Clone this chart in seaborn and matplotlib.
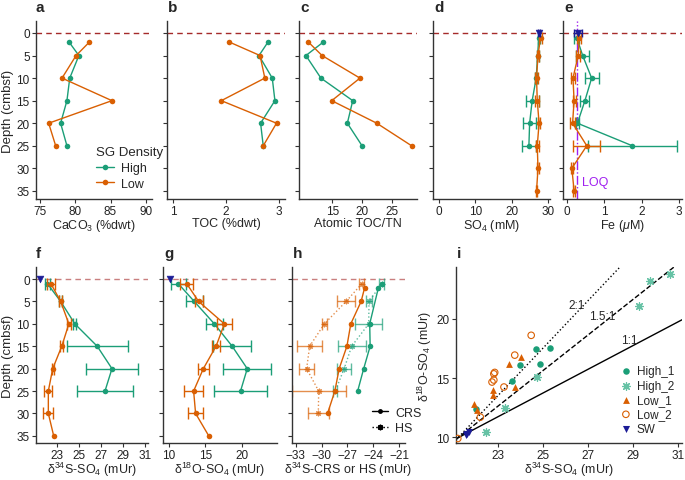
import matplotlib
matplotlib.use('Agg')
import matplotlib.pyplot as plt
from matplotlib.lines import Line2D
import seaborn as sns
import numpy as np

sns.set_style('ticks')
plt.rcParams['font.family'] = ['Liberation Sans', 'DejaVu Sans']
plt.rcParams['mathtext.fontset'] = 'custom'
plt.rcParams['mathtext.rm'] = 'Liberation Sans'
plt.rcParams['mathtext.it'] = 'Liberation Sans:italic'
plt.rcParams['mathtext.default'] = 'regular'

GREEN = '#1b9e77'
GREEN2 = '#66c2a5'
ORANGE = '#d95f02'
NAVY = '#1c1c96'
RED = '#a52a2a'
PURPLE = '#a020f0'

# ---- sediment (panels a-c)
depth_sed = [2, 5, 10, 15, 20, 25]
caco3_high = [79.1, 80.5, 79.2, 78.8, 77.9, 78.8]
caco3_low = [82.0, 80.1, 78.1, 85.2, 76.2, 77.2]
toc_high = [2.79, 2.62, 2.87, 2.92, 2.65, 2.70]
toc_low = [2.06, 2.64, 2.73, 1.91, 2.95, 2.70]
cn_high = [13.5, 10.6, 13.1, 18.4, 17.5, 19.95]
cn_low = [11.0, 13.3, 19.6, 14.9, 22.4, 28.2]

# ---- porewater (panels d-g)
depth_high = [1, 5, 10, 15, 20, 25]
depth_low = [1, 5, 10, 15, 20, 25, 30, 35]
so4_high = [27.4, 27.1, 26.7, 25.6, 24.9, 24.7]
so4_high_err = [0.3, 0.3, 0.3, 1.8, 1.8, 1.9]
so4_low = [27.9, 27.2, 26.8, 27.0, 27.5, 27.0, 27.2, 26.8]
so4_low_err = [0.5, 0.3, 0.5, 0.5, 0.3, 0.4, 0.2, 0.2]
so4_sw, so4_sw_err = 27.45, 0.3
fe_high = [0.26, 0.42, 0.66, 0.48, 0.28, 1.75]
fe_high_err = [0.07, 0.17, 0.19, 0.12, 0.05, 1.2]
fe_low = [0.33, 0.30, 0.16, 0.19, 0.15, 0.53, 0.13, 0.19]
fe_low_err = [0.05, 0.05, 0.06, 0.04, 0.07, 0.36, 0.03, 0.03]
fe_sw, fe_sw_err = 0.30, 0.1
fe_loq = 0.28
d34s_high = [22.08, 23.3, 24.6, 26.65, 28.0, 27.36]
d34s_high_err = [0.25, 0.15, 0.15, 2.78, 2.37, 2.58]
d34s_low = [22.4, 23.3, 24.05, 23.4, 22.57, 22.17, 22.17, 22.66]
d34s_low_err = [0.34, 0.15, 0.2, 0.15, 0.1, 0.37, 0.45, np.nan]
d34s_sw = 21.45
d18o_high = [11.28, 13.48, 16.23, 18.67, 20.73, 19.81]
d18o_high_err = [1.03, 1.15, 1.21, 2.59, 3.26, 3.64]
d18o_low = [12.43, 14.08, 17.6, 16.46, 14.72, 13.39, 13.66, 15.46]
d18o_low_err = [0.85, 0.55, 1.03, 0.5, 0.76, 1.26, 0.99, np.nan]
d18o_sw = 10.1

# ---- sulfide (panel h)
crs_high_depth = [1, 2, 10, 15, 20, 25]
crs_high = [-23.0, -23.4, -24.4, -24.35, -25.1, -25.8]
crs_low_depth = [2, 5, 10, 15, 20, 25, 30]
crs_low = [-25.0, -25.4, -26.6, -27.05, -27.95, -28.45, -29.3]
hs_high_depth = [1, 5, 10, 15, 20, 25]
hs_high = [-23.0, -24.48, -24.52, -26.5, -27.37, -28.4]
hs_high_err = [0.31, 0.33, 1.55, 1.63, 0.79, 0.23]
hs_low_depth = [1, 5, 10, 15, 20, 25, 30]
hs_low = [-25.3, -27.15, -29.67, -31.38, -31.73, -30.33, -30.37]
hs_low_err = [0.29, 1.06, 0.27, 1.47, 0.85, 3.13, 1.22]

# ---- cross plot (panel i)
high1_s = [24.68, 25.3, 23.97, 24.86, 23.59, 22.0]
high1_o = [17.43, 17.49, 16.09, 16.14, 14.72, 12.37]
high2_s = [30.62, 29.76, 29.24, 24.73, 23.31, 22.44]
high2_o = [23.77, 23.21, 21.06, 15.05, 12.43, 10.44]
low1_s = [21.94, 22.07, 22.75, 22.75, 23.46, 23.99, 23.73]
low1_o = [12.82, 12.29, 13.99, 13.55, 16.14, 16.76, 14.24]
low2_s = [24.46, 23.73, 22.84, 22.8, 22.8, 22.72, 23.25, 22.2, 21.2]
low2_o = [18.6, 16.93, 15.47, 15.35, 14.83, 14.66, 14.24, 11.7, 9.9]
sw_s = [21.55, 21.62, 21.7]
sw_o = [10.2, 10.3, 10.42]
ratios = [1, 1.5, 2]
ratio_labels = ['1:1', '1.5:1', '2:1']
ratio_styles = ['-', '--', ':']
ratio_origin = (21.2, 9.95)

W, H = 685, 481
fig = plt.figure(figsize=(W / 100, H / 100), dpi=100)


def box(x0, y0, x1, y1):
    return [x0 / W, 1 - y1 / H, (x1 - x0) / W, (y1 - y0) / H]


def style_ax(ax):
    for s in ['top', 'right']:
        ax.spines[s].set_visible(False)
    for s in ['left', 'bottom']:
        ax.spines[s].set_linewidth(1)
        ax.spines[s].set_color('#333333')
    ax.tick_params(length=3, width=0.8, labelsize=8.5, pad=1.5,
                   color='#333333', labelcolor='#222222')


def profile(ax, x, y, color, err=None, label=None, ls='-', marker='o', ms=4, alpha=1):
    sns.lineplot(x=x, y=y, orient='y', estimator=None, color=color, marker=marker,
                 markersize=ms, markeredgewidth=0 if marker == 'o' else 0.8,
                 markeredgecolor=color, linewidth=1, linestyle=ls, alpha=alpha,
                 ax=ax, label=label, legend=False if label is None else 'auto')
    if err is not None:
        ax.errorbar(x, y, xerr=err, fmt='none', ecolor=color, elinewidth=1,
                    capsize=4, capthick=1, alpha=alpha)


def depth_axis(ax, ylim, first):
    ax.set_ylim(*ylim)
    ax.set_yticks(range(0, 40, 5))
    if first:
        ax.set_ylabel('Depth (cmbsf)', fontsize=9.5, labelpad=2)
    else:
        ax.set_yticklabels([])
        ax.set_ylabel('')


top_ylim = (36.8, -2.66)
bot_ylim = (36.6, -2.7)
LFS = 9

# ---------- a
ax = fig.add_axes(box(36, 22, 152, 200))
ax.axhline(0, color=RED, ls='--', lw=1, dashes=(4, 3), zorder=0)
profile(ax, caco3_high, depth_sed, GREEN, label='High')
profile(ax, caco3_low, depth_sed, ORANGE, label='Low')
ax.set_xlim(74.4, 90.9)
ax.set_xticks([75, 80, 85, 90])
ax.set_xlabel('CaCO$_3$ (%dwt)', fontsize=LFS, labelpad=0)
depth_axis(ax, top_ylim, True)
leg = ax.legend(title='SG Density', loc='upper left', bbox_to_anchor=(0.47, 0.325),
                frameon=False, fontsize=9, title_fontsize=9.5, handlelength=1.5,
                handletextpad=0.5, labelspacing=0.3, borderaxespad=0)
leg._legend_box.align = 'left'
style_ax(ax)

# ---------- b
ax = fig.add_axes(box(167, 22, 285, 200))
ax.axhline(0, color=RED, ls='--', lw=1, dashes=(4, 3), zorder=0)
profile(ax, toc_high, depth_sed, GREEN)
profile(ax, toc_low, depth_sed, ORANGE)
ax.set_xlim(0.887, 3.11)
ax.set_xticks([1, 2, 3])
ax.set_xlabel('TOC (%dwt)', fontsize=LFS, labelpad=0)
depth_axis(ax, top_ylim, False)
style_ax(ax)

# ---------- c
ax = fig.add_axes(box(299, 22, 417, 200))
ax.axhline(0, color=RED, ls='--', lw=1, dashes=(4, 3), zorder=0)
profile(ax, cn_high, depth_sed, GREEN)
profile(ax, cn_low, depth_sed, ORANGE)
ax.set_xlim(9.45, 29.1)
ax.set_xticks([15, 20, 25])
ax.set_xlabel('Atomic TOC/TN', fontsize=LFS, labelpad=0)
depth_axis(ax, top_ylim, False)
style_ax(ax)

# ---------- d
ax = fig.add_axes(box(433, 22, 550, 200))
ax.axhline(0, color=RED, ls='--', lw=1, dashes=(4, 3), zorder=0)
profile(ax, so4_high, depth_high, GREEN, err=so4_high_err)
profile(ax, so4_low, depth_low, ORANGE, err=so4_low_err)
ax.errorbar([so4_sw], [0], xerr=[so4_sw_err], fmt='none', ecolor=NAVY, elinewidth=1, capsize=3)
sns.scatterplot(x=[so4_sw], y=[0], marker='v', s=24, color=NAVY, edgecolor=NAVY, ax=ax, zorder=5)
ax.set_xlim(-1.65, 30.5)
ax.set_xticks([0, 10, 20, 30])
ax.set_xlabel('SO$_4$ (mM)', fontsize=LFS, labelpad=0)
depth_axis(ax, top_ylim, False)
style_ax(ax)

# ---------- e
ax = fig.add_axes(box(563, 22, 682, 200))
ax.axhline(0, color=RED, ls='--', lw=1, dashes=(4, 3), zorder=0)
ax.axvline(fe_loq, color=PURPLE, ls='-.', lw=1)
profile(ax, fe_high, depth_high, GREEN, err=fe_high_err)
profile(ax, fe_low, depth_low, ORANGE, err=fe_low_err)
ax.errorbar([fe_sw], [0], xerr=[fe_sw_err], fmt='none', ecolor=NAVY, elinewidth=1, capsize=3)
sns.scatterplot(x=[fe_sw], y=[0], marker='v', s=24, color=NAVY, edgecolor=NAVY, ax=ax, zorder=5)
ax.text(fe_loq + 0.12, 33.1, 'LOQ', color=PURPLE, fontsize=9, va='center', ha='left')
ax.set_xlim(-0.107, 3.08)
ax.set_xticks([0, 1, 2, 3])
ax.set_xlabel('Fe ($\\mathit{\\mu}$M)', fontsize=LFS, labelpad=0)
depth_axis(ax, top_ylim, False)
style_ax(ax)

# ---------- f
ax = fig.add_axes(box(36, 268, 148, 444))
ax.axhline(0, color=RED, ls='--', lw=1, dashes=(4, 3), zorder=0, alpha=0.6)
profile(ax, d34s_high, depth_high, GREEN, err=d34s_high_err)
profile(ax, d34s_low, depth_low, ORANGE, err=d34s_low_err)
sns.scatterplot(x=[d34s_sw], y=[0], marker='v', s=24, color=NAVY, edgecolor=NAVY, ax=ax, zorder=5)
ax.set_xlim(21.04, 31.3)
ax.set_xticks([23, 25, 27, 29, 31])
ax.set_xlabel('δ$^{34}$S-SO$_4$ (mUr)', fontsize=LFS, labelpad=-1)
depth_axis(ax, bot_ylim, True)
style_ax(ax)

# ---------- g
ax = fig.add_axes(box(163, 268, 277, 444))
ax.axhline(0, color=RED, ls='--', lw=1, dashes=(4, 3), zorder=0, alpha=0.6)
profile(ax, d18o_high, depth_high, GREEN, err=d18o_high_err)
profile(ax, d18o_low, depth_low, ORANGE, err=d18o_low_err)
sns.scatterplot(x=[d18o_sw], y=[0], marker='v', s=24, color=NAVY, edgecolor=NAVY, ax=ax, zorder=5)
ax.set_xlim(9.2, 24.8)
ax.set_xticks([10, 15, 20])
ax.set_xlabel('δ$^{18}$O-SO$_4$ (mUr)', fontsize=LFS, labelpad=-1)
depth_axis(ax, bot_ylim, False)
style_ax(ax)

# ---------- h
ax = fig.add_axes(box(292, 268, 405, 444))
ax.axhline(0, color=RED, ls='--', lw=1, dashes=(4, 3), zorder=0, alpha=0.6)
ast = (8, 2, 0)
profile(ax, hs_high, hs_high_depth, GREEN, err=hs_high_err, ls=':', marker=ast, ms=4, alpha=0.7)
profile(ax, hs_low, hs_low_depth, ORANGE, err=hs_low_err, ls=':', marker=ast, ms=4, alpha=0.7)
profile(ax, crs_high, crs_high_depth, GREEN)
profile(ax, crs_low, crs_low_depth, ORANGE)
ax.set_xlim(-33.43, -20.3)
ax.set_xticks([-33, -30, -27, -24, -21])
ax.set_xlabel('δ$^{34}$S-CRS or HS (mUr)', fontsize=LFS, labelpad=-1)
depth_axis(ax, bot_ylim, False)
handles = [Line2D([], [], color='k', marker='o', ms=3.5, lw=1, mew=0),
           Line2D([], [], color='k', ls=':', marker=ast, ms=4, lw=1)]
ax.legend(handles, ['CRS', 'HS'], loc='lower left', bbox_to_anchor=(0.66, 0.02),
          frameon=False, fontsize=9, handlelength=1.3, handletextpad=0.6,
          labelspacing=0.3, borderaxespad=0)
style_ax(ax)

# ---------- i
ax = fig.add_axes(box(456, 268, 682, 444))
for r, lab, ls in zip(ratios, ratio_labels, ratio_styles):
    ax.axline(ratio_origin, slope=r, color='k', ls=ls, lw=1, zorder=1)
ax.text(26.47, 21.17, '2:1', fontsize=8.5, ha='center', va='center')
ax.text(27.6, 20.2, '1.5:1', fontsize=8.5, ha='center', va='center')
ax.text(28.8, 18.2, '1:1', fontsize=8.5, ha='center', va='center')
sns.scatterplot(x=high1_s, y=high1_o, marker='o', s=22, color=GREEN, edgecolor=GREEN,
                linewidth=0, ax=ax, label='High_1', zorder=3)
sns.scatterplot(x=high2_s, y=high2_o, marker=ast, s=30, color=GREEN2, edgecolor=GREEN2,
                linewidth=0.9, ax=ax, label='High_2', zorder=3)
sns.scatterplot(x=low1_s, y=low1_o, marker='^', s=24, color=ORANGE, edgecolor=ORANGE,
                linewidth=0, ax=ax, label='Low_1', zorder=3)
sns.scatterplot(x=low2_s, y=low2_o, marker='o', s=22, color=ORANGE, facecolor='none',
                edgecolor=ORANGE, linewidth=0.8, ax=ax, label='Low_2', zorder=3)
sns.scatterplot(x=sw_s, y=sw_o, marker='v', s=26, color=NAVY, edgecolor=NAVY,
                linewidth=0, ax=ax, label='SW', zorder=3)
ax.set_xlim(21.12, 31.16)
ax.set_ylim(9.52, 24.36)
ax.set_xticks([23, 25, 27, 29, 31])
ax.set_yticks([10, 15, 20])
ax.set_xlabel('δ$^{34}$S-SO$_4$ (mUr)', fontsize=LFS, labelpad=-1)
ax.set_ylabel('δ$^{18}$O-SO$_4$ (mUr)', fontsize=LFS)
ax.yaxis.set_label_coords(-0.097, 0.5)
ax.legend(loc='lower right', bbox_to_anchor=(0.985, 0.02), frameon=False, fontsize=8.5,
          handlelength=1.0, handletextpad=0.4, labelspacing=0.2, borderaxespad=0)
style_ax(ax)

# panel letters
for lab, x, y in [('a', 36, 12), ('b', 168, 12), ('c', 300, 12), ('d', 434, 12), ('e', 564, 12),
                  ('f', 36, 258), ('g', 164, 258), ('h', 293, 258), ('i', 457, 258)]:
    fig.text(x / W, 1 - y / H, lab, fontsize=11, fontweight='bold', ha='left', va='baseline')

fig.savefig('out.png', dpi=100)
